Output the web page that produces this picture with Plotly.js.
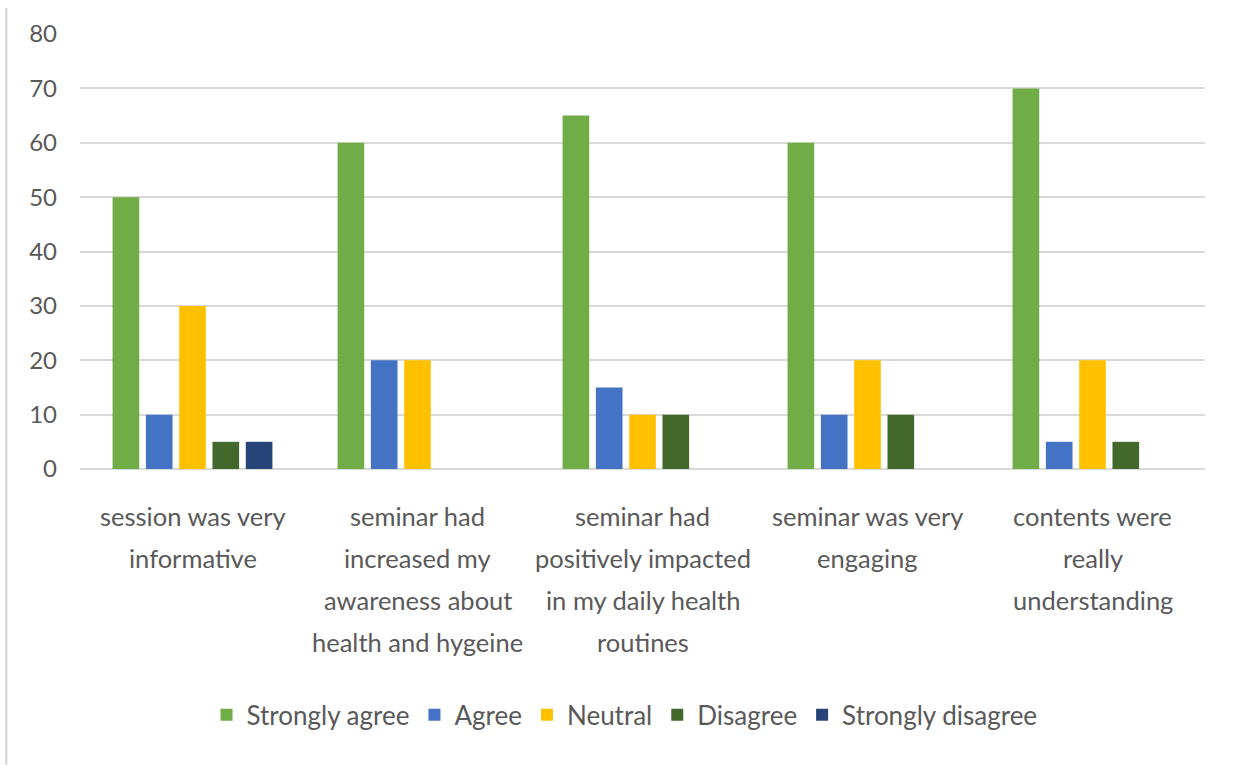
<!DOCTYPE html>
<html>
<head>
<meta charset="utf-8">
<script src="https://cdn.plot.ly/plotly-3.0.1.min.js"></script>
<style>html,body{margin:0;padding:0;background:#fff;}#chart{width:1235px;height:767px;}</style>
</head>
<body>
<div id="chart"></div>
<script>
const categories = [
  "session was very<br>informative",
  "seminar had<br>increased my<br>awareness about<br>health and hygeine",
  "seminar had<br>positively impacted<br>in my daily health<br>routines",
  "seminar was very<br>engaging",
  "contents were<br>really<br>understanding"
];
const seriesNames = ["Strongly agree", "Agree", "Neutral", "Disagree", "Strongly disagree"];
const stronglyAgree = [50, 60, 65, 60, 70];
const agree = [10, 20, 15, 10, 5];
const neutral = [30, 20, 10, 20, 20];
const disagree = [5, 0, 10, 10, 5];
const stronglyDisagree = [5, 0, 0, 0, 0];
const yTicks = [0, 10, 20, 30, 40, 50, 60, 70, 80];

const seriesValues = [stronglyAgree, agree, neutral, disagree, stronglyDisagree];
const colors = ["#70AD47", "#4472C4", "#FFC000", "#43682B", "#264478"];
const FONT = "Lato, 'Open Sans', sans-serif";
const GREY = "#595959";

const traces = seriesNames.map((name, i) => ({
  type: "bar",
  name: name,
  x: categories,
  y: seriesValues[i],
  marker: { color: colors[i] },
  hoverinfo: "x+y+name"
}));

const annotations = [];
categories.forEach(cat => {
  cat.split("<br>").forEach((line, k) => {
    annotations.push({
      xref: "x", yref: "paper", x: cat, y: 0,
      yanchor: "middle", xanchor: "center",
      yshift: -(47 + 42 * k),
      text: line, showarrow: false,
      font: { family: FONT, size: 25.5, color: GREY }
    });
  });
});

const layout = {
  width: 1235, height: 767,
  margin: { l: 80, r: 30, t: 34, b: 298 },
  paper_bgcolor: "#ffffff", plot_bgcolor: "#ffffff",
  barmode: "group", bargap: 0.26, bargroupgap: 0.2,
  font: { family: FONT, color: GREY },
  xaxis: { showticklabels: false, showgrid: false, zeroline: false, showline: false, ticks: "" },
  yaxis: {
    range: [0, 80], tickvals: yTicks, ticktext: yTicks.map(String),
    showgrid: true, gridcolor: "#d9d9d9", gridwidth: 2,
    zeroline: true, zerolinecolor: "#d9d9d9", zerolinewidth: 2,
    showline: false, ticks: "", ticklabelstandoff: 22,
    tickfont: { family: FONT, size: 24, color: GREY }
  },
  legend: {
    orientation: "h", x: 0.484, xanchor: "center", xref: "paper",
    y: -0.565, yanchor: "middle",
    font: { family: FONT, size: 26, color: GREY },
    itemwidth: 30, traceorder: "normal"
  },
  annotations: annotations,
  shapes: [{
    type: "line", xref: "paper", yref: "paper",
    x0: -0.0655, x1: -0.0655, y0: 1.06, y1: -0.68,
    line: { color: "#d0d0d0", width: 2 }
  }],
  showlegend: true
};

Plotly.newPlot("chart", traces, layout, { displayModeBar: false, staticPlot: true });
</script>
</body>
</html>
